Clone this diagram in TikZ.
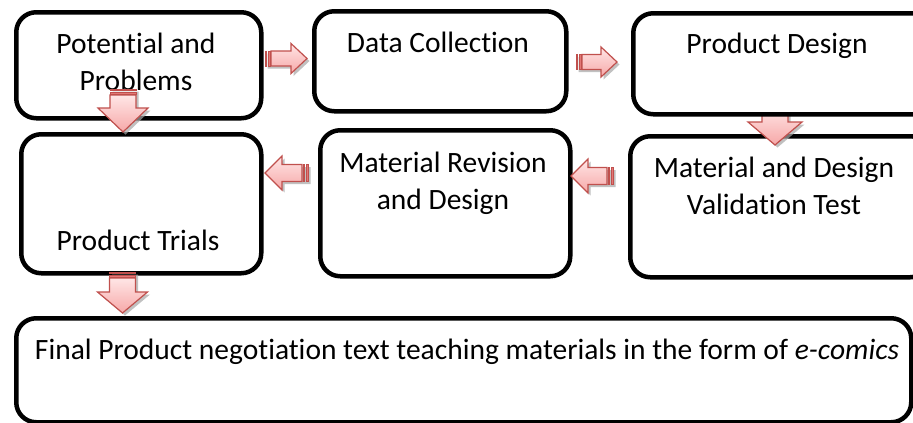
\documentclass[tikz,border=0pt]{standalone}
\usepackage{fontspec}
\setmainfont{Carlito}[Ligatures=NoCommon]
\usetikzlibrary{calc}
\definecolor{arrline}{HTML}{C0504D}
\definecolor{arrtop}{HTML}{FFE6E6}
\definecolor{arrbot}{HTML}{F6A8A8}
\definecolor{arrstripe}{HTML}{E27876}
\newcommand\stripearrow[6]{% #1 tail coordinate, #2 angle, #3 length, #4 head length, #5 head half, #6 shaft half
  \begin{scope}[shift={(#1)}]
    \begin{scope}[shift={(2.5,2.5)},rotate=#2]
      \fill[arrshadow] (0,-#6) -- (#3-#4,-#6) -- (#3-#4,-#5) -- (#3,0) -- (#3-#4,#5) -- (#3-#4,#6) -- (0,#6) -- cycle;
    \end{scope}
    \begin{scope}[rotate=#2]
      \draw[arrbody] (6,-#6) -- (#3-#4,-#6) -- (#3-#4,-#5) -- (#3,0) -- (#3-#4,#5) -- (#3-#4,#6) -- (6,#6) -- cycle;
      \draw[arrstrip] (0,-#6) rectangle (1.8,#6);
      \draw[arrstrip] (3.2,-#6) rectangle (5,#6);
    \end{scope}
  \end{scope}}
\begin{document}
\begin{tikzpicture}[x=1pt,y=-1pt,
  box/.style={draw=black, line width=4.5pt, rounded corners=20pt, fill=white, inner sep=0pt, anchor=north west},
  lbl/.style={font=\fontsize{29.5}{36.5}\selectfont, align=center, inner sep=0pt, anchor=base},
  arrbody/.style={draw=arrline, line width=1.2pt, line join=miter, top color=arrtop, bottom color=arrbot},
  arrstrip/.style={draw=arrline, line width=0.8pt, fill=arrstripe},
  arrshadow/.style={fill=black!35, opacity=0.7}]
\useasboundingbox (0,0) rectangle (913,423);
\clip (0,0) rectangle (913,423);
% boxes
\node[box, minimum width=245pt, minimum height=106pt] (b1) at (14,10) {};
\node[box, minimum width=252pt, minimum height=100pt] (b2) at (312,9) {};
\node[box, minimum width=240pt, minimum height=139pt] (b4) at (19,132) {};
\node[box, minimum width=250pt, minimum height=146pt] (b5) at (318,128) {};
\node[box, minimum width=300pt, minimum height=141pt] (b6) at (628,134) {};
\node[box, minimum width=895pt, minimum height=104pt] (b7) at (14,316) {};
% texts (base anchor = baseline of the last line)
\node[lbl] (t1) at (136,90) {Potential and\\Problems};
\node[lbl] (t2) at (438,52) {Data Collection};
\node[lbl] (t4) at (138,250) {Product Trials};
\node[lbl] (t5) at (443,209) {Material Revision\\and Design};
\node[lbl] (t6) at (774,214) {Material and Design\\Validation Test};
\node[lbl] (t7) at (467,359) {Final Product negotiation text teaching materials in the form of \textit{e-comics}};
% connector tails
\coordinate (a12) at (265,58.5);
\coordinate (a23) at (576,62);
\coordinate (a36) at (775,100);
\coordinate (a65) at (613,176);
\coordinate (a54) at (308,173);
\coordinate (a14) at (123,89);
\coordinate (a47) at (122.5,272);
\stripearrow{a12}{0}{42}{16}{15}{7.5}
\stripearrow{a23}{0}{41}{16}{15}{7.5}
\stripearrow{a36}{-90}{45}{23}{27}{13}
\node[box, minimum width=300pt, minimum height=101pt] (b3) at (631,11) {};
\node[lbl] (t3) at (777,53) {Product Design};
\stripearrow{a65}{180}{42}{17}{17}{8.5}
\stripearrow{a54}{180}{43}{17}{17}{8.5}
\stripearrow{a14}{-90}{43}{24}{25}{13}
\stripearrow{a47}{-90}{41}{21}{25}{13}
\end{tikzpicture}
\end{document}
